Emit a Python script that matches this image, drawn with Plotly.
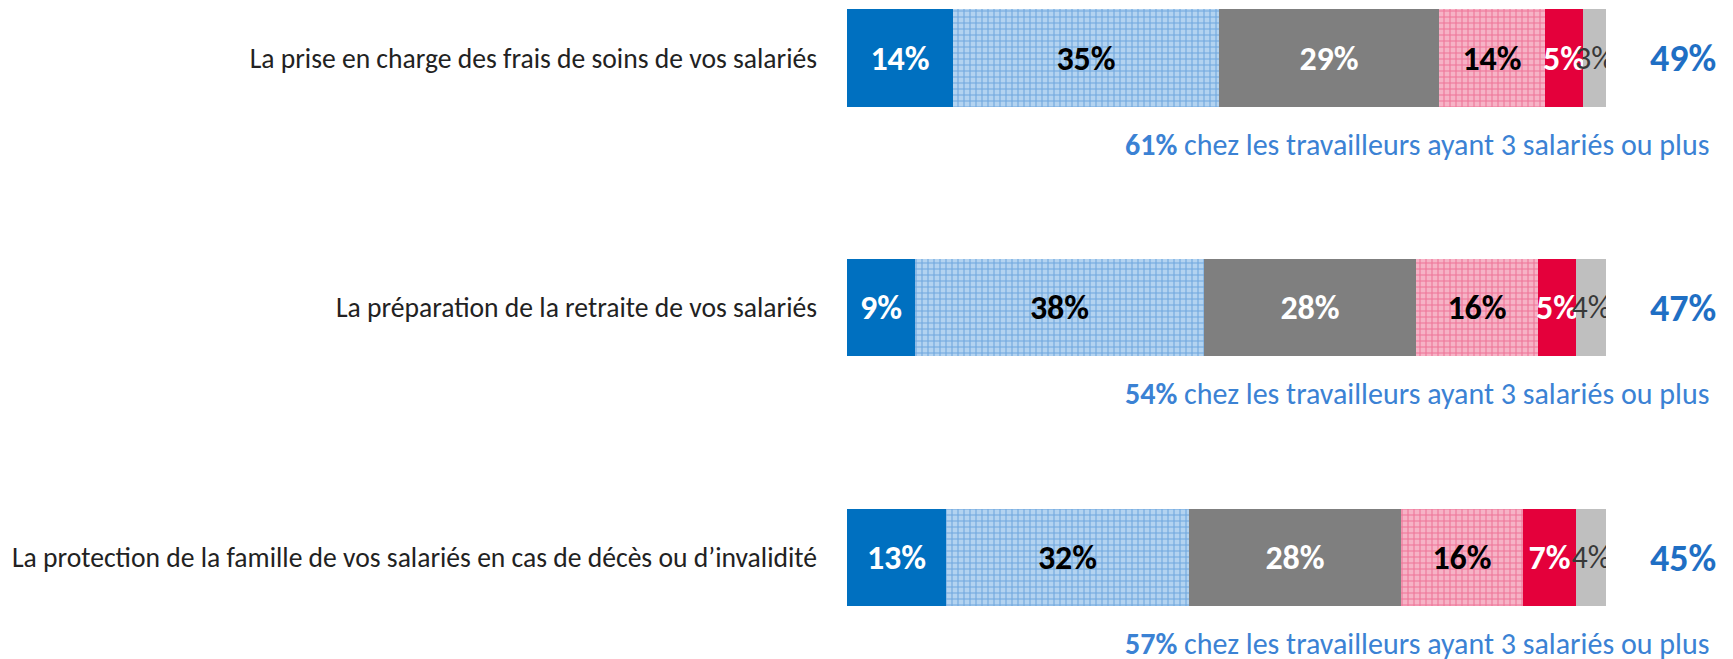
import plotly.graph_objects as go

categories = [
    "La prise en charge des frais de soins de vos salariés",
    "La préparation de la retraite de vos salariés",
    "La protection de la famille de vos salariés en cas de décès ou d\u2019invalidité",
]
series_names = ["S1", "S2", "S3", "S4", "S5", "S6"]
values = [
    [14, 9, 13],
    [35, 38, 32],
    [29, 28, 28],
    [14, 16, 16],
    [5, 5, 7],
    [3, 4, 4],
]
totals = [49, 47, 45]
sub_pcts = [61, 54, 57]
sub_text = " chez les travailleurs ayant 3 salariés ou plus"

FONT = "Carlito, Open Sans, sans-serif"
colors = ["#0070c0", "#b3d3f0", "#7f7f7f", "#f6a9bf", "#e4003b", "#bfbfbf"]
patterns = [None, dict(shape="+", fgcolor="#2a7ccc", bgcolor="#b3d3f0", size=6, solidity=0.33),
            None, dict(shape="+", fgcolor="#e8346a", bgcolor="#f6b3c6", size=6, solidity=0.33),
            None, None]
text_colors = ["white", "black", "white", "black", "white", "#383838"]
text_weights = ["bold", "bold", "bold", "bold", "bold", "normal"]

W, H = 1733, 659
OFF = 8  # default page body margin
x0, x1 = 847 - OFF, 1606 - OFF
c0, c2 = 58 - OFF, 557.5 - OFF
step = (c2 - c0) / 2
y_bottom = 2 + (H - c2) / step
y_top = -c0 / step

fig = go.Figure()
for i, name in enumerate(series_names):
    marker = dict(color=colors[i], line=dict(width=0))
    if patterns[i]:
        marker["pattern"] = patterns[i]
    fig.add_trace(go.Bar(
        y=categories, x=values[i], name=name, orientation="h",
        marker=marker, width=0.39,
        text=[f"{v}%" for v in values[i]], textposition="inside", textangle=0,
        insidetextanchor="middle", constraintext="none",
        textfont=dict(family=FONT, size=34 if i < 5 else 32, color=text_colors[i],
                      weight=text_weights[i]),
        hoverinfo="skip", showlegend=False,
    ))

for k, cat in enumerate(categories):
    yc = c0 + k * step
    fig.add_annotation(xref="paper", yref="paper", x=(1683 - OFF) / W, y=1 - yc / H,
                       text=f"<b>{totals[k]}%</b>", showarrow=False, xanchor="center",
                       yanchor="middle",
                       font=dict(family=FONT, size=38, color="#1f6fc4"))
    fig.add_annotation(xref="paper", yref="paper", x=(1711 - OFF) / W, y=1 - (yc + 86) / H,
                       text=f"<b>{sub_pcts[k]}%</b>{sub_text}", showarrow=False,
                       xanchor="right", yanchor="middle",
                       font=dict(family=FONT, size=30, color="#3b82d4"))

fig.update_layout(
    width=W, height=H, barmode="stack", bargap=0,
    margin=dict(l=0, r=0, t=0, b=0),
    paper_bgcolor="white", plot_bgcolor="white",
    xaxis=dict(domain=[x0 / W, x1 / W], range=[0, 100], visible=False, fixedrange=True),
    yaxis=dict(type="category", categoryorder="array", categoryarray=categories,
               range=[y_bottom, y_top], showgrid=False, zeroline=False, showline=False,
               ticks="", ticklabelstandoff=29,
               tickfont=dict(family=FONT, size=27.6, color="#222222")),
)

fig.write_html("out.html")
